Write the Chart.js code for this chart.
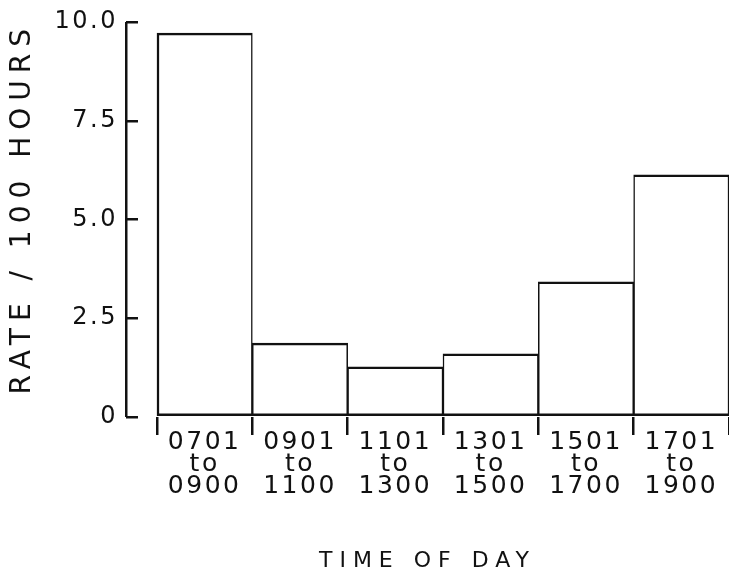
<!DOCTYPE html>
<html>
<head>
<meta charset="utf-8">
<script src="https://cdn.jsdelivr.net/npm/chart.js@4"></script>
<style>
  html, body { margin: 0; padding: 0; background: #fff; }
  #wrap { width: 729px; height: 584px; }
</style>
</head>
<body>
<div id="wrap"><canvas id="rate-chart"></canvas></div>
<script>
const timeFrom = ['0701', '0901', '1101', '1301', '1501', '1701']
const timeTo = ['0900', '1100', '1300', '1500', '1700', '1900']
const ratePer100h = [9.72, 1.87, 1.27, 1.6, 3.42, 6.13]
const yTicks = [0, 2.5, 5, 7.5, 10]
const yTickLabels = ['0', '2.5', '5.0', '7.5', '10.0']

const ink = '#111'
const clear = 'rgba(0,0,0,0)'
const family = '"DejaVu Sans", sans-serif'
const xMin = -0.325 // leaves the gap between the y axis and the first bar

// wide lettering like the original: titles (drawn before the bars) wider,
// tick labels (z: 1, drawn after the bars) a bit less
const spacingPlugin = {
  id: 'spacing',
  beforeDraw(chart) {
    chart.ctx.letterSpacing = '7px'
  },
  afterDatasetsDraw(chart) {
    chart.ctx.letterSpacing = '2.5px'
  },
}

const isHalf = (v) => Math.abs(v - Math.floor(v) - 0.5) < 1e-6

const ctx = document.getElementById('rate-chart').getContext('2d')
new Chart(ctx, {
  type: 'bar',
  data: {
    datasets: [
      {
        data: ratePer100h.map((v, i) => ({ x: i + 0.5, y: v })),
        backgroundColor: '#fff',
        borderColor: ink,
        borderWidth: (c) => ({
          top: 2.5,
          bottom: 2.5,
          left: c.dataIndex === 0 ? 2.5 : 1.5,
          right: 1.5,
        }),
        borderSkipped: false,
        barThickness: 'flex',
        barPercentage: 1,
        categoryPercentage: 1,
      },
    ],
  },
  options: {
    responsive: true,
    maintainAspectRatio: false,
    animation: false,
    layout: { padding: { top: 22, right: 0, bottom: 0, left: 0 } },
    plugins: { legend: { display: false }, tooltip: { enabled: false } },
    scales: {
      x: {
        type: 'linear',
        min: xMin,
        max: 6,
        offset: false,
        afterBuildTicks: (s) => {
          const t = [{ value: xMin }]
          for (let i = 0; i <= timeFrom.length; i++) {
            t.push({ value: i })
            if (i < timeFrom.length) t.push({ value: i + 0.5 })
          }
          s.ticks = t
        },
        afterFit: (s) => {
          s.height = 167
          s.paddingLeft = 0
          s.paddingRight = 0
        },
        border: { display: false },
        grid: {
          offset: false,
          z: -1,
          tickLength: 18,
          lineWidth: 2.5,
          // the only line inside the plot is the y axis itself
          color: (c) => (c.tick && c.tick.value === xMin ? ink : clear),
          tickColor: (c) =>
            c.tick && Number.isInteger(c.tick.value) ? ink : clear,
        },
        ticks: {
          z: 1,
          autoSkip: false,
          maxRotation: 0,
          minRotation: 0,
          padding: -4,
          color: ink,
          font: { family, size: 25, lineHeight: '22px' },
          callback: (v) => {
            if (!isHalf(v)) return ''
            const k = Math.floor(v)
            return [timeFrom[k], 'to', timeTo[k]]
          },
        },
        title: {
          display: true,
          text: 'TIME OF DAY',
          color: ink,
          font: { family, size: 22 },
          padding: { top: 0, bottom: 10 },
        },
      },
      y: {
        min: 0,
        max: 10,
        afterBuildTicks: (s) => {
          s.ticks = yTicks.map((v) => ({ value: v }))
        },
        afterFit: (s) => {
          s.width = 126
          s.paddingTop = 0
          s.paddingBottom = 0
        },
        border: { display: false },
        grid: {
          drawOnChartArea: false,
          tickLength: -12,
          lineWidth: 2.5,
          color: ink,
        },
        ticks: {
          z: 1,
          padding: 20,
          color: ink,
          font: { family, size: 24 },
          callback: (v, i) => yTickLabels[i],
        },
        title: {
          display: true,
          align: 'end',
          text: 'RATE / 100 HOURS',
          color: ink,
          font: { family, size: 28 },
          padding: { top: 6, bottom: 0 },
        },
      },
    },
  },
  plugins: [spacingPlugin],
})
</script>
</body>
</html>
